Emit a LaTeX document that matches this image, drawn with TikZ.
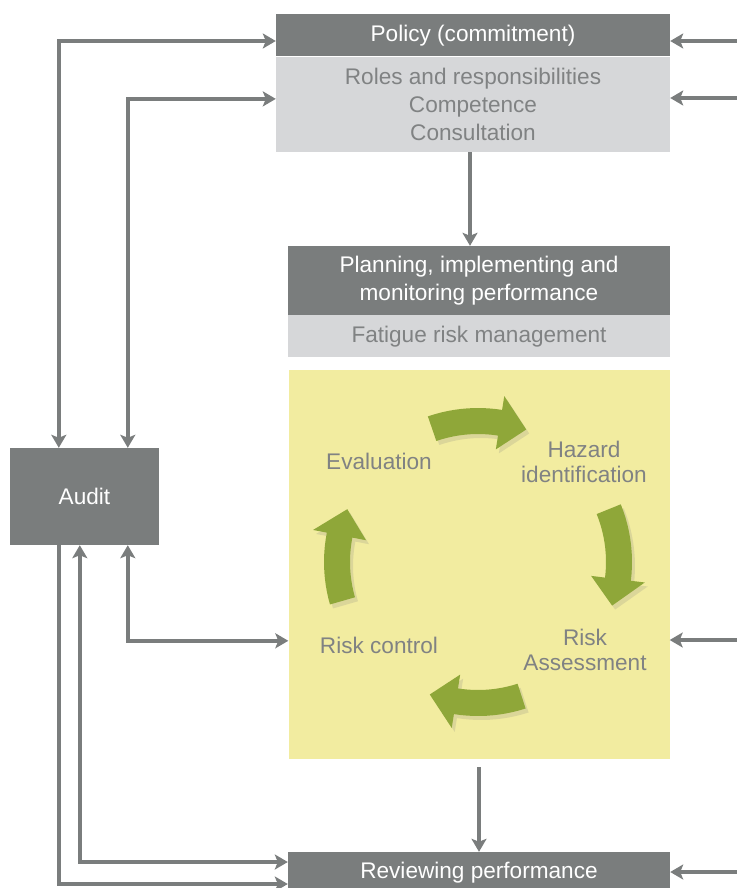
\documentclass[tikz,border=0pt]{standalone}
\usepackage{fontspec}
\setmainfont{Liberation Sans}
\usetikzlibrary{positioning,arrows.meta,shadows}

\definecolor{boxdark}{RGB}{122,125,125}
\definecolor{boxlight}{RGB}{214,215,217}
\definecolor{textgray}{RGB}{128,130,131}
\definecolor{cycleyellow}{RGB}{242,236,160}
\definecolor{leafgreen}{RGB}{143,167,57}

\begin{document}
\begin{tikzpicture}[x=1pt, y=-1pt,
  every node/.style={font=\fontsize{22.6}{28}\selectfont, inner sep=0pt, align=center},
  darkbox/.style={fill=boxdark, text=white},
  lightbox/.style={fill=boxlight, text=textgray},
  steplabel/.style={text=textgray, font=\fontsize{22.6}{25}\selectfont},
  link/.style={draw=boxdark, line width=3.6pt, -{Stealth[length=13pt,width=15pt,inset=3pt]}},
  twolink/.style={link, {Stealth[length=13pt,width=15pt,inset=3pt]}-{Stealth[length=13pt,width=15pt,inset=3pt]}},
  leaf/.style={fill=leafgreen, drop shadow={opacity=0.2, shadow xshift=3pt, shadow yshift=-4pt}}]
  \useasboundingbox (0,0) rectangle (736,888);

  %----- boxes -----
  \node[darkbox, minimum width=394pt, minimum height=42pt] (policy) at (473,35.5) {Policy (commitment)};
  \node[lightbox, minimum width=394pt, minimum height=95pt, below=0pt of policy] (roles)
    {Roles and responsibilities\\Competence\\Consultation};
  \node[darkbox, minimum width=382pt, minimum height=69pt] (plan) at (479,280.5)
    {Planning, implementing and\\monitoring performance};
  \node[lightbox, minimum width=382pt, minimum height=42pt, below=0pt of plan] (fatigue) {Fatigue risk management};
  \node[fill=cycleyellow, minimum width=381pt, minimum height=389pt, below=12pt of fatigue] (cycle) {};
  \node[darkbox, minimum width=149pt, minimum height=97pt] (audit) at (84.5,496.5) {Audit};
  \node[darkbox, minimum width=382pt, minimum height=42pt] (review) at (479,873) {Reviewing performance};

  %----- cycle labels -----
  \node[steplabel] (eval) at (379,461) {Evaluation};
  \node[steplabel] (hazard) at (584,461.5) {Hazard\\identification};
  \node[steplabel] (assess) at (585,649.5) {Risk\\Assessment};
  \node[steplabel] (control) at (379,645) {Risk control};

  %----- green arrows (start angle, end angle) -----
  \def\leafarrow#1#2{%
    \pgfmathsetmacro{\m}{#2-11}
    \fill[leaf] plot[variable=\t, domain=#1:\m, samples=12] (\t:154) -- (\m:168) -- (#2:141)
      -- (\m:114) -- plot[variable=\t, domain=\m:#1, samples=12] (\t:128) -- cycle;
  }
  \begin{scope}[shift={(478,562)}]
    \leafarrow{251}{290}
    \leafarrow{338}{378}
    \leafarrow{72}{110}
    \leafarrow{164}{202}
  \end{scope}

  %----- links -----
  \draw[link] ([xshift=-3pt]roles.south) -- ([xshift=-9pt]plan.north);
  \draw[link] ([yshift=-8pt]cycle.south) -- (review.north);

  % audit
  \draw[twolink] ([xshift=49pt]audit.north west) |- ([yshift=-5.5pt]policy.west);
  \draw[twolink] ([xshift=118pt]audit.north west) |- ([yshift=5.5pt]roles.west);
  \draw[twolink] ([xshift=118pt]audit.south west) |- ([yshift=-76.5pt]cycle.west);
  \draw[twolink] ([xshift=70pt]audit.south west) |- ([yshift=11pt]review.west);
  \draw[link] ([xshift=49pt]audit.south west) |- ([yshift=-11pt]review.west);

  % from the right
  \coordinate (in1) at (740,41);
  \coordinate (in2) at (740,98);
  \coordinate (in3) at (740,640);
  \coordinate (in4) at (740,872);
  \draw[link] (in1) -- (in1 -| policy.east);
  \draw[link] (in2) -- (in2 -| roles.east);
  \draw[link] (in3) -- (in3 -| cycle.east);
  \draw[link] (in4) -- (in4 -| review.east);
\end{tikzpicture}
\end{document}
